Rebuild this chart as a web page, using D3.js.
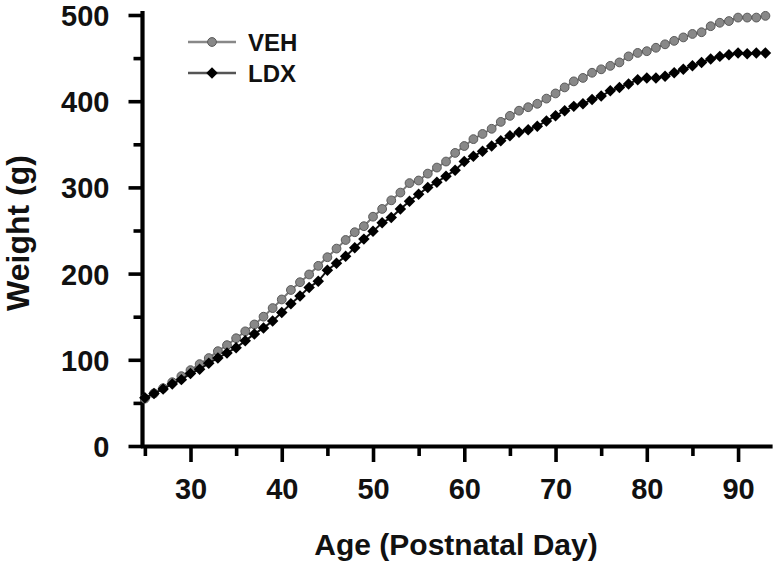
<!DOCTYPE html>
<html>
<head>
<meta charset="utf-8">
<script src="https://cdn.jsdelivr.net/npm/d3@7"></script>
<style>
  html, body { margin: 0; padding: 0; background: #fff; }
  svg { display: block; font-family: "Liberation Sans", Arial, sans-serif; }
</style>
</head>
<body>
<svg id="chart" width="775" height="562"></svg>
<script>
// ---- data ----
const days = [25,26,27,28,29,30,31,32,33,34,35,36,37,38,39,40,41,42,43,44,45,46,47,48,49,50,51,52,53,54,55,56,57,58,59,60,61,62,63,64,65,66,67,68,69,70,71,72,73,74,75,76,77,78,79,80,81,82,83,84,85,86,87,88,89,90,91,92,93];
const vehWeight = [55,61,67,74,81,88,95,102,110,117,125,133,141,150,160,170,181,190,199,209,219,229,239,248,255,266,275,285,294,305,308,316,323,330,340,348,356,362,368,376,383,389,393,397,403,409,416,423,427,433,437,441,445,452,456,458,462,466,470,474,478,480,487,491,493,497,497,497,499];
const ldxWeight = [56,61,66,72,77,84,89,96,102,108,114,122,130,137,145,155,165,174,184,191,204,212,220,230,240,249,259,265,275,284,292,300,306,313,320,330,336,342,348,354,360,364,367,371,377,383,389,394,397,402,406,412,416,420,425,427,427,429,433,437,441,445,449,452,454,456,455,456,456];
const seriesNames = ["VEH", "LDX"];
const yMajorTicks = [0,100,200,300,400,500];
const yMinorTicks = [50,150,250,350,450];
const xMajorTicks = [30,40,50,60,70,80,90];
const xMinorTicks = [25,35,45,55,65,75,85];
const xTitle = "Age (Postnatal Day)";
const yTitle = "Weight (g)";

// ---- layout ----
const svg = d3.select("#chart");
const x = d3.scaleLinear().domain([24.74, 93.5]).range([142.5, 770]);
const y = d3.scaleLinear().domain([0, 500]).range([446, 15]);
const AXW = 4.2;

// y axis
const gy = svg.append("g").attr("transform", `translate(${x.range()[0]},0)`);
gy.call(d3.axisLeft(y).tickValues(yMajorTicks).tickSize(14).tickSizeOuter(0).tickPadding(19).tickFormat(d3.format("d")));
const gyMinor = svg.append("g").attr("transform", `translate(${x.range()[0]},0)`);
gyMinor.call(d3.axisLeft(y).tickValues(yMinorTicks).tickSize(9).tickSizeOuter(0).tickFormat(""));
gyMinor.select(".domain").remove();

// x axis
const gx = svg.append("g").attr("transform", `translate(0,${y(0)})`);
gx.call(d3.axisBottom(x).tickValues(xMajorTicks).tickSize(16).tickSizeOuter(0).tickPadding(16).tickFormat(d3.format("d")));
const gxMinor = svg.append("g").attr("transform", `translate(0,${y(0)})`);
gxMinor.call(d3.axisBottom(x).tickValues(xMinorTicks).tickSize(10).tickSizeOuter(0).tickFormat(""));
gxMinor.select(".domain").remove();

svg.selectAll(".domain").attr("stroke", "#000").attr("stroke-width", AXW).attr("stroke-linecap", "square");
svg.selectAll(".tick line").attr("stroke", "#000").attr("stroke-width", 3.6);
svg.selectAll(".tick text").attr("fill", "#111").attr("font-size", 29).attr("font-weight", "bold")
   .attr("font-family", "'Liberation Sans', Arial, sans-serif");
gy.selectAll(".tick text").attr("dy", "0.36em");
gy.select(".domain").attr("d", `M0,${y(500) - 2}V${y(0)}`);

// titles
svg.append("text").attr("x", 456).attr("y", 555).attr("text-anchor", "middle")
   .attr("font-size", 30).attr("font-weight", "bold").attr("fill", "#111").text(xTitle);
svg.append("text").attr("transform", `translate(29,233) rotate(-90)`).attr("text-anchor", "middle")
   .attr("font-size", 32).attr("font-weight", "bold").attr("fill", "#111").text(yTitle);

// series
const vehData = days.map((d, i) => ({ d, v: vehWeight[i] }));
const ldxData = days.map((d, i) => ({ d, v: ldxWeight[i] }));
const line = d3.line().x(p => x(p.d)).y(p => y(p.v));

svg.append("path").datum(vehData).attr("d", line).attr("fill", "none").attr("stroke", "#777").attr("stroke-width", 2);
svg.append("g").selectAll("circle").data(vehData).join("circle")
   .attr("cx", p => x(p.d)).attr("cy", p => y(p.v)).attr("r", 4.4)
   .attr("fill", "#888").attr("stroke", "#5a5a5a").attr("stroke-width", 1);

const diamond = d3.symbol().type(d3.symbolSquare).size(66);
svg.append("path").datum(ldxData).attr("d", line).attr("fill", "none").attr("stroke", "#111").attr("stroke-width", 2);
svg.append("g").selectAll("path").data(ldxData).join("path")
   .attr("d", diamond)
   .attr("transform", p => `translate(${x(p.d)},${y(p.v)}) rotate(45)`)
   .attr("fill", "#000");

// legend
const legend = svg.append("g");
const legRows = [
  { name: seriesNames[0], yy: 42, color: "#888" },
  { name: seriesNames[1], yy: 73, color: "#555" }
];
legRows.forEach((r, i) => {
  legend.append("line").attr("x1", 188).attr("x2", 236).attr("y1", r.yy).attr("y2", r.yy)
    .attr("stroke", r.color).attr("stroke-width", 2.4);
  if (i === 0) {
    legend.append("circle").attr("cx", 212).attr("cy", r.yy).attr("r", 4.4)
      .attr("fill", "#888").attr("stroke", "#5a5a5a").attr("stroke-width", 1);
  } else {
    legend.append("path").attr("d", diamond).attr("transform", `translate(212,${r.yy}) rotate(45)`).attr("fill", "#000");
  }
  legend.append("text").attr("x", 248).attr("y", r.yy + 8.5).attr("font-size", 24).attr("font-weight", "bold")
    .attr("fill", "#111").text(r.name);
});
</script>
</body>
</html>
